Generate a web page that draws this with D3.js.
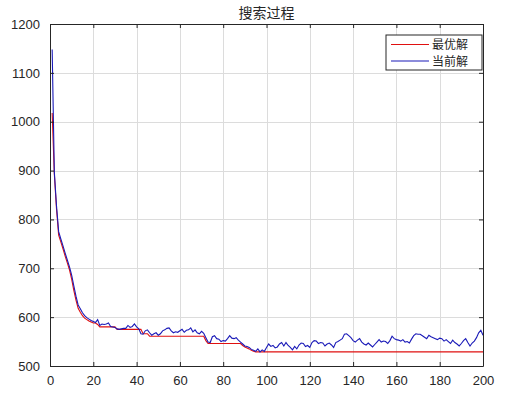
<!DOCTYPE html>
<html>
<head>
<meta charset="utf-8">
<script src="https://cdn.jsdelivr.net/npm/d3@7/dist/d3.min.js"></script>
<style>
  html, body { margin: 0; padding: 0; background: #fff; }
  svg { display: block; }
</style>
</head>
<body>
<div id="chart"></div>
<script>
// title and legend labels
var chartTitle = "搜索过程";
var seriesNames = ["最优解", "当前解"];

// tick values
var xTicks = [0, 20, 40, 60, 80, 100, 120, 140, 160, 180, 200];
var yTicks = [500, 600, 700, 800, 900, 1000, 1100, 1200];

// best solution (red), iterations 1..200
var bestVals = [
  1018, 893, 822, 768, 754, 740, 725, 711, 697, 678,
  655, 635, 618, 610, 603, 598, 595, 592, 590, 588,
  588, 585, 580, 580, 580, 580, 580, 580, 580, 580,
  575, 575, 575, 575, 575, 575, 575, 575, 575, 575,
  575, 575, 566, 566, 566, 561, 561, 561, 561, 561,
  561, 561, 561, 561, 561, 561, 561, 561, 561, 561,
  561, 561, 561, 561, 561, 561, 561, 561, 561, 561,
  561, 552, 546, 546, 546, 546, 546, 546, 546, 546,
  546, 546, 546, 546, 546, 546, 546, 546, 542, 539,
  537, 535, 532, 530, 529, 529, 529, 529, 529, 529,
  529, 529, 529, 529, 529, 529, 529, 529, 529, 529,
  529, 529, 529, 529, 529, 529, 529, 529, 529, 529,
  529, 529, 529, 529, 529, 529, 529, 529, 529, 529,
  529, 529, 529, 529, 529, 529, 529, 529, 529, 529,
  529, 529, 529, 529, 529, 529, 529, 529, 529, 529,
  529, 529, 529, 529, 529, 529, 529, 529, 529, 529,
  529, 529, 529, 529, 529, 529, 529, 529, 529, 529,
  529, 529, 529, 529, 529, 529, 529, 529, 529, 529,
  529, 529, 529, 529, 529, 529, 529, 529, 529, 529,
  529, 529, 529, 529, 529, 529, 529, 529, 529, 529
];

// current solution (blue), iterations 1..200
var currentVals = [
  1148, 897, 828, 775, 760, 746, 731, 717, 703, 686,
  664, 643, 625, 617, 609, 603, 599, 596, 593, 591,
  589, 595, 583, 586, 585, 586, 588, 581, 580, 579,
  576, 575, 576, 577, 577, 583, 579, 581, 586, 580,
  576, 566, 565, 572, 574, 568, 563, 566, 568, 563,
  566, 572, 574, 577, 578, 572, 568, 570, 569, 572,
  575, 569, 573, 574, 578, 570, 574, 568, 566, 571,
  567, 558, 549, 548, 560, 562, 556, 555, 550, 552,
  551, 556, 562, 557, 556, 558, 553, 549, 545, 541,
  540, 538, 534, 532, 530, 535, 529, 533, 530, 538,
  545, 540, 542, 537, 539, 545, 548, 541, 548, 542,
  538, 533, 540, 535, 543, 547, 546, 540, 542, 538,
  548, 552, 551, 546, 548, 547, 541, 545, 547, 543,
  538, 548, 550, 553, 556, 565, 566, 562, 558, 552,
  549, 553, 556, 549, 545, 543, 547, 543, 539, 544,
  549, 554, 549, 551, 550, 546, 552, 561, 556, 554,
  553, 551, 554, 549, 550, 547, 555, 562, 566, 565,
  565, 562, 559, 556, 563, 560, 558, 556, 554, 557,
  556, 551, 554, 550, 546, 553, 548, 545, 541, 546,
  552, 556, 548, 541, 547, 551, 558, 568, 573, 563
];

var W = 530, H = 397;
var plot = { left: 50, right: 483, top: 24, bottom: 366 };

var svg = d3.select("#chart").append("svg")
  .attr("width", W)
  .attr("height", H)
  .style("font-family", "'Liberation Sans', Arial, sans-serif");

var x = d3.scaleLinear().domain([0, 200]).range([plot.left, plot.right]);
var y = d3.scaleLinear().domain([500, 1200]).range([plot.bottom, plot.top]);

// grid
svg.append("g").selectAll("line.gx")
  .data(xTicks.slice(1, -1)).enter().append("line")
  .attr("x1", function(d) { return Math.round(x(d)) + 0.5; })
  .attr("x2", function(d) { return Math.round(x(d)) + 0.5; })
  .attr("y1", plot.top).attr("y2", plot.bottom)
  .style("stroke", "#dcdcdc").style("stroke-width", 1);
svg.append("g").selectAll("line.gy")
  .data(yTicks.slice(1, -1)).enter().append("line")
  .attr("y1", function(d) { return Math.round(y(d)) + 0.5; })
  .attr("y2", function(d) { return Math.round(y(d)) + 0.5; })
  .attr("x1", plot.left).attr("x2", plot.right)
  .style("stroke", "#dcdcdc").style("stroke-width", 1);

// series lines
var idx = d3.range(1, 201);
var line = function(vals) {
  return d3.line()
    .x(function(d) { return x(d); })
    .y(function(d) { return y(vals[d - 1]); })(idx);
};
svg.append("path").attr("d", line(bestVals))
  .style("fill", "none").style("stroke", "#e01010").style("stroke-width", 1.1);
svg.append("path").attr("d", line(currentVals))
  .style("fill", "none").style("stroke", "#1a1ab8").style("stroke-width", 1.1);

// axes (MATLAB box style, inward ticks)
var fmt = d3.format("d");
var xAxisB = d3.axisBottom(x).tickValues(xTicks).tickFormat(fmt).tickSizeInner(-4).tickSizeOuter(0).tickPadding(10);
var xAxisT = d3.axisTop(x).tickValues(xTicks).tickSizeInner(-4).tickSizeOuter(0).tickFormat("");
var yAxisL = d3.axisLeft(y).tickValues(yTicks).tickFormat(fmt).tickSizeInner(-4).tickSizeOuter(0).tickPadding(10);
var yAxisR = d3.axisRight(y).tickValues(yTicks).tickSizeInner(-4).tickSizeOuter(0).tickFormat("");

function styleAxis(g) {
  g.select(".domain").style("stroke", "#262626");
  g.selectAll(".tick line").style("stroke", "#262626");
  g.selectAll(".tick text").style("fill", "#262626").style("font-size", "13px")
    .style("font-family", "'Liberation Sans', Arial, sans-serif");
}
svg.append("g").attr("transform", "translate(0," + plot.bottom + ")").call(xAxisB).call(styleAxis);
svg.append("g").attr("transform", "translate(0," + plot.top + ")").call(xAxisT).call(styleAxis);
svg.append("g").attr("transform", "translate(" + plot.left + ",0)").call(yAxisL).call(styleAxis);
svg.append("g").attr("transform", "translate(" + plot.right + ",0)").call(yAxisR).call(styleAxis);

// title
svg.append("text")
  .attr("x", (plot.left + plot.right) / 2)
  .attr("y", 18)
  .attr("text-anchor", "middle")
  .style("font-family", "'Noto Sans CJK SC', sans-serif")
  .style("font-size", "14px")
  .style("fill", "#262626")
  .text(chartTitle);

// legend
var legend = svg.append("g").attr("transform", "translate(386,35)");
legend.append("rect")
  .attr("width", 96).attr("height", 35)
  .style("fill", "#fff").style("stroke", "#262626").style("stroke-width", 1);
var colors = ["#e01010", "#1a1ab8"];
seriesNames.forEach(function(name, i) {
  var ly = 9.5 + i * 16.5;
  legend.append("line")
    .attr("x1", 5).attr("x2", 43).attr("y1", ly).attr("y2", ly)
    .style("stroke", colors[i]).style("stroke-width", 1.1);
  legend.append("text")
    .attr("x", 46).attr("y", ly + 4.5)
    .style("font-family", "'Noto Sans CJK SC', sans-serif")
    .style("font-size", "12px")
    .style("fill", "#262626")
    .text(name);
});
</script>
</body>
</html>
